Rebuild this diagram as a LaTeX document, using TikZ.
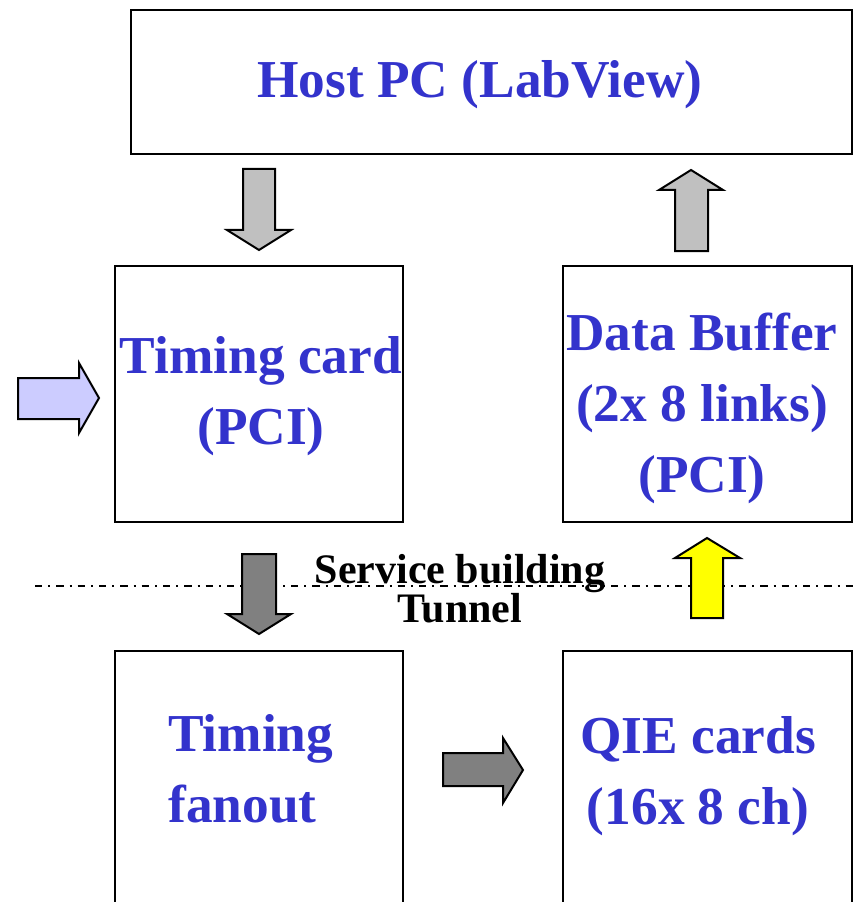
\documentclass[tikz,border=0pt]{standalone}
\usepackage{fontspec}
\setmainfont{Liberation Serif}
\usetikzlibrary{fit}
\definecolor{txtblue}{RGB}{51,51,204}
\definecolor{lgray}{RGB}{192,192,192}
\definecolor{dgray}{RGB}{128,128,128}
\definecolor{lblue}{RGB}{204,204,255}
\definecolor{yel}{RGB}{255,255,0}
\tikzset{
  box/.style={draw, line width=1.5pt, inner sep=0pt},
  title/.style={font=\fontsize{40}{53}\selectfont\bfseries, text=txtblue, align=center, inner sep=0pt},
  blk/.style={draw, line width=1.5pt, miter limit=4},
}
\begin{document}
\begin{tikzpicture}[x=0.75pt, y=-0.75pt]
  \useasboundingbox (0,0) rectangle (856,902);
  % level line between the two areas
  \draw[line width=1.1pt, dash pattern=on 5.5pt off 4.5pt on 1.5pt off 4.5pt] (35,586) -- (856,586);
  % boxes
  \node[box, fit={(131,10) (852,154)}] (host) {};
  \node[box, fit={(115,266) (403,522)}] (tcard) {};
  \node[box, fit={(563,266) (852,522)}] (dbuf) {};
  \node[box, fit={(115,651) (403,960)}] (fanout) {};
  \node[box, fit={(563,651) (852,960)}] (qie) {};
  % texts (base = last line)
  \node[title, anchor=base] (hosttxt) at (480,98) {Host PC (LabView)};
  \node[title, anchor=base] (tcardtxt) at (261,444) {Timing card\\(PCI)};
  \node[title, anchor=base] (dbuftxt) at (702,492) {Data Buffer\\(2x 8 links)\\(PCI)};
  \node[title, align=left, anchor=base west] (fanouttxt) at (168,822) {Timing\\fanout};
  \node[title, anchor=base] (qietxt) at (698,824) {QIE cards\\(16x 8 ch)};
  \node[font=\fontsize{31.5}{29.25}\selectfont\bfseries, align=center, inner sep=0pt, anchor=base] (area) at (460,622) {Service building\\Tunnel};
  % block arrows
  \draw[blk, fill=lgray] (243,169) -- (275,169) -- (275,230) -- (291,230) -- (259,250) -- (227,230) -- (243,230) -- cycle;
  \draw[blk, fill=lgray] (675,251) -- (708,251) -- (708,190) -- (723,190) -- (691,170) -- (659,190) -- (675,190) -- cycle;
  \draw[blk, fill=lblue] (18,378) -- (79,378) -- (79,363) -- (99,398) -- (79,433) -- (79,419) -- (18,419) -- cycle;
  \draw[blk, fill=dgray] (242,554) -- (276,554) -- (276,614) -- (291,614) -- (259,634) -- (227,614) -- (242,614) -- cycle;
  \draw[blk, fill=yel] (691,618) -- (723,618) -- (723,558) -- (740,558) -- (707,538) -- (675,558) -- (691,558) -- cycle;
  \draw[blk, fill=dgray] (443,753) -- (503,753) -- (503,738) -- (523,770) -- (503,803) -- (503,786) -- (443,786) -- cycle;
\end{tikzpicture}
\end{document}
